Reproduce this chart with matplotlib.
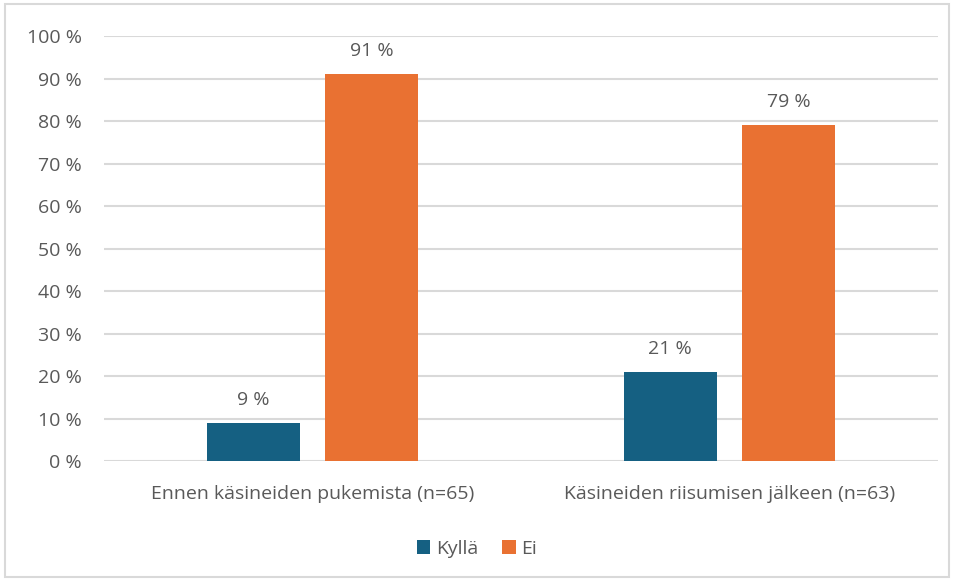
import numpy as np
import matplotlib
matplotlib.use("Agg")
import matplotlib.pyplot as plt
from matplotlib.patches import Rectangle

categories = ["Ennen käsineiden pukemista (n=65)", "Käsineiden riisumisen jälkeen (n=63)"]
series_names = ["Kyllä", "Ei"]
kylla = [9, 21]
ei = [91, 79]
yticks = list(range(0, 101, 10))

plt.rcParams['font.family'] = ['Open Sans', 'DejaVu Sans']
text_color = '#595959'
grid_color = '#D9D9D9'
colors = ['#156082', '#E97132']
fs = 14

fig = plt.figure(figsize=(9.54, 5.81), dpi=100)
fig.patches.append(Rectangle((0.005, 0.007), 0.99, 0.986, transform=fig.transFigure,
                             fill=False, edgecolor=grid_color, linewidth=1.5))
ax = fig.add_axes([0.109, 0.2065, 0.874, 0.7315])

x = np.arange(len(categories))
w = 0.223
off = 0.1415
for vals, name, col, sh in [(kylla, series_names[0], colors[0], -off), (ei, series_names[1], colors[1], off)]:
    bars = ax.bar(x + sh, vals, width=w, color=col, label=name, zorder=3)
    for b, v in zip(bars, vals):
        ax.annotate(f"{v} %", (b.get_x() + b.get_width() / 2, v), xytext=(0, 10),
                    textcoords='offset points', ha='center', va='bottom',
                    fontsize=fs, color=text_color)

ax.set_xlim(-0.5, 1.5)
ax.set_ylim(0, 100)
ax.set_yticks(yticks)
ax.set_yticklabels([f"{t} %" for t in yticks])
ax.set_xticks(x)
ax.set_xticklabels(categories)
ax.yaxis.grid(True, color=grid_color, linewidth=1.5, zorder=0)
ax.set_axisbelow(True)
for s in ax.spines.values():
    s.set_visible(False)
ax.tick_params(axis='y', length=0, pad=16, labelsize=fs, labelcolor=text_color)
ax.tick_params(axis='x', length=0, pad=17, labelsize=fs, labelcolor=text_color)

fig.legend(loc='lower center', bbox_to_anchor=(0.5, 0.01), ncol=2, frameon=False,
           fontsize=fs, labelcolor=text_color, handlelength=0.7, handleheight=0.7,
           handletextpad=0.3, columnspacing=1.2)

fig.savefig("out.png", dpi=100)
